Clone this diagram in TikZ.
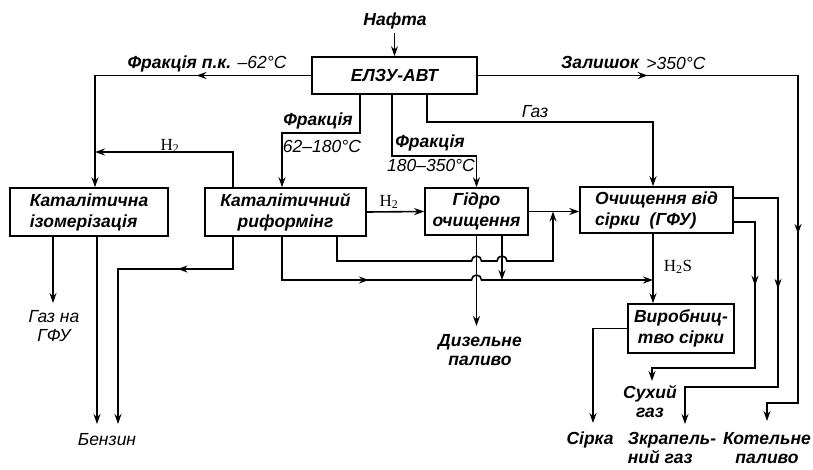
\documentclass[tikz,border=0pt]{standalone}
\usepackage{fontspec}
\setmainfont{Liberation Sans}
\newfontfamily\serf{Liberation Serif}
\usetikzlibrary{arrows.meta,decorations.markings}
\tikzset{
  tip/.tip={Stealth[length=10pt,width=7pt]},
  wire/.style={line width=1.6pt},
  flow/.style={wire,-tip},
  marr/.style={postaction={decorate,decoration={markings,mark=at position #1 with {\arrow{tip}}}}},
  bl/.style={font=\fontsize{17.5}{19}\selectfont\bfseries\itshape,inner sep=1pt},
  il/.style={font=\fontsize{17.5}{19}\selectfont\itshape,inner sep=1pt},
  hl/.style={font=\fontsize{17}{18}\selectfont\serf,inner sep=1pt},
  box/.style={draw,wire,inner sep=2pt,font=\fontsize{17.5}{21}\selectfont\bfseries\itshape},
}
\begin{document}
\begin{tikzpicture}[x=1pt,y=-1pt]
\useasboundingbox (0,0) rectangle (813,469);
\fill[white] (0,0) rectangle (813,469);
% boxes
\node[box,minimum width=165pt,minimum height=37pt] (avt) at (394.5,75.5) {ЕЛЗУ-АВТ};
\node[box,minimum width=158pt,minimum height=48pt,align=left] (iso) at (89,212) {Каталітична\\ізомерізація};
\node[box,minimum width=161pt,minimum height=48pt,align=center] (ref) at (285.5,212) {Каталітичний\\риформінг};
\node[box,minimum width=103pt,minimum height=47pt,align=center] (hyd) at (476.5,211.5) {Гідро\\очищення};
\node[box,minimum width=153pt,minimum height=46pt,align=left] (gfu) at (656.5,210) {Очищення від\\сірки\ \ (ГФУ)};
\node[box,minimum width=106pt,minimum height=49pt,align=center] (sul) at (681,328.5) {Виробниц-\\тво сірки};
% labels
\node[bl] (naf) at (395,21) {Нафта};
\node[il] (lpk) at (207,64) {{\bfseries Фракція п.к.} –62°C};
\node[hl] (lh1) at (170,146) {H\textsubscript{2}};
\node[bl] (lf1) at (318,121) {Фракція};
\node[il] (lf1b) at (322,146) {62–180°C};
\node[bl] (lf2) at (430,143) {Фракція};
\node[il] (lf2b) at (431,165) {180–350°C};
\node[il] (lgas) at (535,112) {Газ};
\node[bl] (lzal) at (600,62) {Залишок};
\node[il] (lzalb) at (676,63) {>350°C};
\node[hl] (lh2) at (389,202) {H\textsubscript{2}};
\node[hl] (lh2s) at (678,267) {H\textsubscript{2}S};
\node[bl,align=center] (dies) at (480,350) {Дизельне\\паливо};
\node[il,align=center] (gfuo) at (54,326) {Газ на\\ГФУ};
\node[il] (benz) at (107,440) {Бензин};
\node[bl] (sirk) at (590,440) {Сірка};
\node[bl,align=center] (dry) at (650,402) {Сухий\\газ};
\node[bl,align=left] (liq) at (672,448) {Зкрапель-\\ний газ};
\node[bl,align=center] (kot) at (767,448) {Котельне\\паливо};
% coordinates
\coordinate (pk) at (95,75.5);
\coordinate (h2j) at (95,152);
\coordinate (f1) at (321,133);
\coordinate (f2) at (430,156);
\coordinate (g1) at (540,122);
\coordinate (z1) at (798,75.5);
\coordinate (z2) at (767,403);
\coordinate (zend) at (767,421);
\coordinate (j1) at (553,211.5);
\coordinate (dz) at (476.5,326);
\coordinate (j3) at (502,280);
\coordinate (sk) at (593,423);
\coordinate (u1) at (778,387);
\coordinate (uend) at (685,424);
\coordinate (w1) at (755,368);
\coordinate (wend) at (652,381);
\coordinate (gend) at (53,303);
\coordinate (bend1) at (97,424);
\coordinate (b2) at (176,269);
\coordinate (bend2) at (118,424);
\coordinate (nafb) at (394.5,33);
% connectors
\draw[flow] (nafb) -- (avt.north);
\draw[flow,marr=0.35] (avt.west) -- (pk) -- (iso.north -| pk);
\draw[flow] ([xshift=-52.5pt]ref.north) |- (h2j);
\draw[flow] ([xshift=-34.5pt]avt.south) |- (f1) -| ([xshift=-3.5pt]ref.north);
\draw[flow] ([xshift=-2.5pt]avt.south) |- (f2) -| (hyd.north);
\draw[flow] ([xshift=32.5pt]avt.south) |- (g1) -| ([xshift=-3.5pt]gfu.north);
\draw[flow,marr=0.244,marr=0.687] (avt.east) -- (z1) |- (z2) -- (zend);
\draw[flow] (ref.east) -- (hyd.west);
\draw[flow] (hyd.east) -- (hyd.east -| gfu.west);
\draw[flow] ([xshift=51.5pt]ref.south) |- (471.5,261) arc[start angle=180,end angle=0,radius=5pt] -- (497,261) arc[start angle=180,end angle=0,radius=5pt] -- (553,261) -- (j1);
\draw[flow,marr=0.31] ([xshift=-3.5pt]ref.south) |- (471.5,280) arc[start angle=180,end angle=0,radius=5pt] -- (653,280);
\draw[flow] (hyd.south) -- (dz);
\draw[flow] ([xshift=25.5pt]hyd.south) -- (j3);
\draw[flow] ([xshift=-3.5pt]gfu.south) -- ([xshift=-28pt]sul.north);
\draw[flow] (sul.west) -| (sk);
\draw[flow,marr=0.372] ([yshift=12pt]gfu.east) -| (u1) -| (uend);
\draw[flow,marr=0.30] ([yshift=-12pt]gfu.east) -| (w1) -| (wend);
\draw[flow] ([xshift=-36pt]iso.south) -- (gend);
\draw[flow] ([xshift=8pt]iso.south) -- (bend1);
\draw[flow,marr=0.29] ([xshift=-52.5pt]ref.south) |- (b2) -| (bend2);
\end{tikzpicture}
\end{document}
